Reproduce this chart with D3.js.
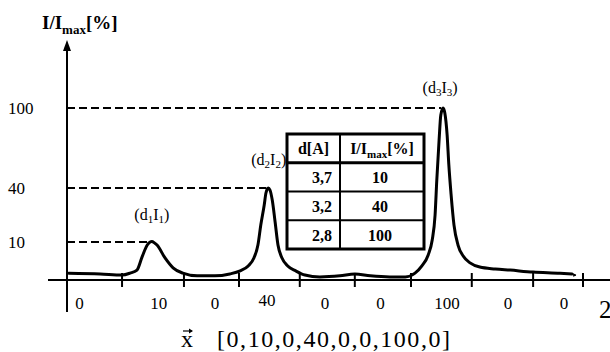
<!DOCTYPE html>
<html>
<head>
<meta charset="utf-8">
<script src="https://cdn.jsdelivr.net/npm/d3@7"></script>
<style>
  html, body { margin: 0; padding: 0; background: #fff; }
  svg { display: block; font-family: "Liberation Serif", "Times New Roman", serif; }
</style>
</head>
<body>
<svg id="chart" width="610" height="352"></svg>
<script>
// ---------- data ----------
const curveX = [0.03,0.58,0.96,1.10,1.22,1.31,1.40,1.45,1.48,1.53,1.57,1.71,1.85,2.02,2.27,2.58,2.84,3.02,3.16,3.26,3.33,3.38,3.44,3.47,3.51,3.54,3.58,3.63,3.68,3.75,3.85,3.99,4.15,4.41,4.76,5.02,5.29,5.63,5.90,6.07,6.19,6.30,6.37,6.42,6.45,6.49,6.52,6.56,6.59,6.63,6.66,6.70,6.75,6.82,6.91,7.03,7.20,7.47,7.73,8.13,8.60,8.81];
const curveY = [1.8,1.6,1.3,1.8,2.6,6.1,9.2,10,10.3,9.7,9.2,5.8,3.2,1.8,1.1,1.1,1.6,2.4,3.7,5.8,9.2,19.4,30.6,37.2,40,38.9,33.3,21.1,9.2,5.8,3.7,2.4,1.3,0.8,1.1,1.6,1.1,0.8,0.8,1.8,3.7,6.6,11.1,25,46,76,94.8,100,96.3,79.8,57.3,36.1,19.4,9.2,6.3,4.5,3.4,2.9,2.6,2.1,1.8,1.6];

const peakX = [1.48, 3.51, 6.56];
const peakY = [10, 40, 100];
const peakIdx = ["1", "2", "3"];

const yTicks = [10, 40, 100];
const xTickPos = [0.96, 2.04, 3.0, 4.06, 5.02, 6.0, 7.06, 8.13, 9.0];
const xLabels = ["0", "10", "0", "40", "0", "0", "100", "0", "0"];
const xLabelPos = [0.22, 1.60, 2.58, 3.49, 4.50, 5.47, 6.63, 7.69, 8.67];

const tableD = ["3,7", "3,2", "2,8"];
const tableI = ["10", "40", "100"];

const vectorText = "[0,10,0,40,0,0,100,0]";

// ---------- scales ----------
const svg = d3.select("#chart");
const x = d3.scaleLinear().domain([0, 9]).range([67, 583]);
const y = d3.scaleLinear().domain([0, 10, 40, 100]).range([280, 242, 188, 108]);

// ---------- axes ----------
svg.append("line").attr("x1", 48).attr("x2", 610).attr("y1", y(0)).attr("y2", y(0))
  .attr("stroke", "#000").attr("stroke-width", 2);
svg.append("line").attr("x1", x(0)).attr("x2", x(0)).attr("y1", 48).attr("y2", 312)
  .attr("stroke", "#000").attr("stroke-width", 2);
svg.append("path").attr("d", `M${x(0)},40 L${x(0)-4},51 L${x(0)+4},51 Z`).attr("fill", "#000");

svg.selectAll("line.xtick").data(xTickPos).join("line").attr("class", "xtick")
  .attr("x1", d => x(d)).attr("x2", d => x(d))
  .attr("y1", y(0) - 7).attr("y2", y(0) + 7)
  .attr("stroke", "#000").attr("stroke-width", 2);

svg.selectAll("text.xlab").data(xLabels).join("text").attr("class", "xlab")
  .attr("x", (d, i) => x(xLabelPos[i]))
  .attr("y", (d, i) => d === "40" ? 306 : 309)
  .attr("text-anchor", "middle").attr("font-size", 17).text(d => d);

svg.append("text").attr("x", 599).attr("y", 318).attr("font-size", 25).text("2");

// y tick labels
svg.selectAll("text.ylab").data(yTicks).join("text").attr("class", "ylab")
  .attr("x", 8).attr("y", d => y(d) + 6).attr("font-size", 17).text(d => d);

// dashed guides
svg.selectAll("line.guide").data(peakY).join("line").attr("class", "guide")
  .attr("x1", x(0)).attr("x2", (d, i) => x(peakX[i]) - 2)
  .attr("y1", d => y(d)).attr("y2", d => y(d))
  .attr("stroke", "#000").attr("stroke-width", 2).attr("stroke-dasharray", "8,4");

// y-axis title
const yt = svg.append("text").attr("x", 42).attr("y", 29).attr("font-size", 19).attr("font-weight", "bold");
yt.append("tspan").text("I/I");
yt.append("tspan").attr("font-size", 13).attr("dy", 5).text("max");
yt.append("tspan").attr("dy", -5).text("[%]");

// ---------- curve ----------
const pts = curveX.map((d, i) => [d, curveY[i]]);
svg.append("path").datum(pts)
  .attr("d", d3.line().x(d => x(d[0])).y(d => y(d[1])).curve(d3.curveMonotoneX))
  .attr("fill", "none").attr("stroke", "#000").attr("stroke-width", 3)
  .attr("stroke-linejoin", "round").attr("stroke-linecap", "round");
// small loop at tail end
svg.append("path")
  .attr("d", `M${x(8.81)},${y(1.6)} Q${x(8.81)+6},${y(1.6)+1} ${x(8.81)+1},${y(1.6)+2}`)
  .attr("fill", "none").attr("stroke", "#000").attr("stroke-width", 1.5);

// ---------- peak labels ----------
const labelPos = [
  {dx: 0, y: 220, anchor: "middle"},
  {dx: 18, y: 165, anchor: "end"},
  {dx: -3, y: 93, anchor: "middle"}
];
peakIdx.forEach((k, i) => {
  const t = svg.append("text").attr("x", x(peakX[i]) + labelPos[i].dx).attr("y", labelPos[i].y)
    .attr("text-anchor", labelPos[i].anchor).attr("font-size", 16);
  t.append("tspan").text("(d");
  t.append("tspan").attr("font-size", 11).attr("dy", 3).text(k);
  t.append("tspan").attr("dy", -3).text("I");
  t.append("tspan").attr("font-size", 11).attr("dy", 3).text(k);
  t.append("tspan").attr("dy", -3).text(")");
});

// ---------- table ----------
const tx0 = 287, tx1 = 424, tcol = 340;
const rows = d3.scaleBand().domain(["h", ...tableD]).range([134, 249]);
const tg = svg.append("g");
tg.append("rect").attr("x", tx0).attr("y", 134).attr("width", tx1 - tx0).attr("height", 115)
  .attr("fill", "#fff").attr("stroke", "#000").attr("stroke-width", 3);
tg.selectAll("line.row").data(tableD).join("line").attr("class", "row")
  .attr("x1", tx0).attr("x2", tx1).attr("y1", d => rows(d)).attr("y2", d => rows(d))
  .attr("stroke", "#000").attr("stroke-width", (d, i) => i === 0 ? 3 : 2);
tg.append("line").attr("x1", tcol).attr("x2", tcol).attr("y1", 134).attr("y2", 249)
  .attr("stroke", "#000").attr("stroke-width", 2);

const bw = rows.bandwidth();
tg.append("text").attr("x", (tx0 + tcol) / 2).attr("y", rows("h") + bw / 2 + 6)
  .attr("text-anchor", "middle").attr("font-size", 16).attr("font-weight", "bold").text("d[A]");
const h2 = tg.append("text").attr("x", (tcol + tx1) / 2).attr("y", rows("h") + bw / 2 + 6)
  .attr("text-anchor", "middle").attr("font-size", 16).attr("font-weight", "bold");
h2.append("tspan").text("I/I");
h2.append("tspan").attr("font-size", 11).attr("dy", 4).text("max");
h2.append("tspan").attr("dy", -4).text("[%]");

tg.selectAll("text.dcol").data(tableD).join("text").attr("class", "dcol")
  .attr("x", tcol - 8).attr("y", d => rows(d) + bw / 2 + 6)
  .attr("text-anchor", "end").attr("font-size", 16).attr("font-weight", "bold").text(d => d);
tg.selectAll("text.icol").data(tableI).join("text").attr("class", "icol")
  .attr("x", (tcol + tx1) / 2 - 2).attr("y", (d, i) => rows(tableD[i]) + bw / 2 + 6)
  .attr("text-anchor", "middle").attr("font-size", 16).attr("font-weight", "bold").text(d => d);

// ---------- bottom vector ----------
svg.append("text").attr("x", 181).attr("y", 347).attr("font-size", 24).text("x");
// vector arrow drawn as a path
svg.append("line").attr("x1", 183).attr("x2", 192).attr("y1", 331).attr("y2", 331)
  .attr("stroke", "#000").attr("stroke-width", 1.2);
svg.append("path").attr("d", "M193,331 L189,328.5 L189,333.5 Z").attr("fill", "#000");
svg.append("text").attr("x", 217).attr("y", 347).attr("font-size", 24)
  .attr("textLength", 233).attr("lengthAdjust", "spacing").text(vectorText);
</script>
</body>
</html>
